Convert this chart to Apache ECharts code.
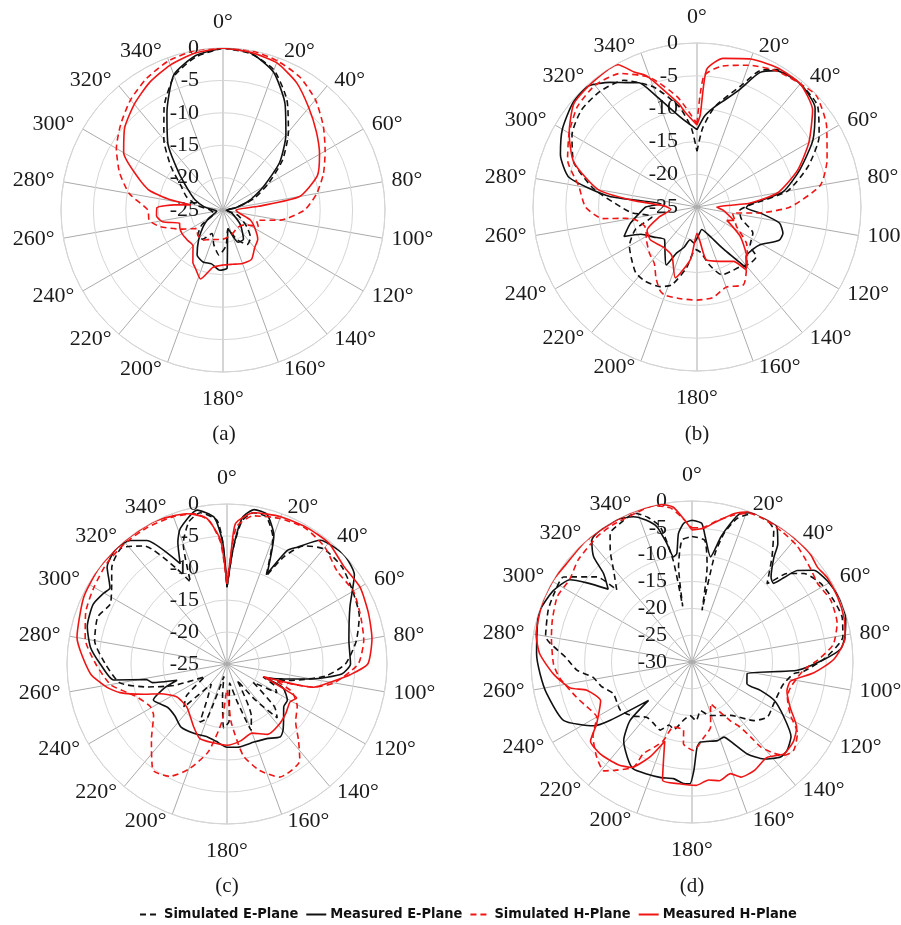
<!DOCTYPE html>
<html>
<head>
<meta charset="utf-8">
<script src="https://cdn.jsdelivr.net/npm/echarts@6/dist/echarts.min.js"></script>
<style>
html,body{margin:0;padding:0;background:#fff;}
#chart{width:901px;height:925px;}
</style>
</head>
<body>
<div id="chart"></div>
<script>
// ---------------- DATA: [angle (deg), level (dB)] ----------------
const seriesNames = ['Simulated E-Plane', 'Measured E-Plane', 'Simulated H-Plane', 'Measured H-Plane'];
const panelLabels = ['(a)', '(b)', '(c)', '(d)'];
const radialTicksABC = [0, -5, -10, -15, -20, -25];
const radialTicksD = [0, -5, -10, -15, -20, -25, -30];
const angleTickStep = 20;

// (a)
const a_simE = [[0,0],[10,-0.5],[20,-2],[30,-5.3],[40,-9.3],[50,-13],[60,-17],[70,-20],[80,-23],[90,-24.5],[110,-22.5],[125,-20.5],[135,-19],[145,-18.5],[155,-20],[165,-22],[175,-19.5],[185,-18],[195,-19.5],[205,-21],[215,-19.5],[225,-19.5],[235,-21],[250,-23.5],[270,-23],[280,-21],[290,-19],[300,-17.5],[310,-14.5],[320,-10.8],[330,-6.8],[340,-3],[350,-1],[360,0]];
const a_meaE = [[0,0],[10,-0.4],[20,-2.3],[30,-5.9],[40,-9.9],[50,-13.6],[60,-17.8],[70,-20.6],[80,-23],[95,-24.5],[110,-23.5],[130,-21.5],[145,-19.5],[155,-19.5],[165,-22],[172,-20],[176,-16],[183,-15.7],[192,-16.5],[201,-16.4],[210,-17],[219,-19],[230,-21],[240,-22.5],[260,-24],[275,-23],[280,-22],[290,-20.4],[300,-18.8],[310,-16.1],[320,-11.8],[330,-7.7],[340,-2.8],[350,-0.8],[360,0]];
const a_simH = [[0,0],[10,0],[20,-0.5],[30,-1.3],[40,-2.8],[50,-4.8],[60,-6.8],[70,-8.5],[80,-10.3],[90,-12.4],[100,-16],[107,-19.6],[115,-19],[125,-21],[140,-21.5],[160,-21],[180,-20.5],[204,-20],[214,-19.4],[225,-19.5],[235,-20],[245,-18],[255,-15],[262,-13.5],[270,-13.4],[280,-10.3],[290,-8],[300,-6],[310,-4.4],[320,-2.8],[330,-1.5],[340,-0.5],[350,0],[360,0]];
const a_meaH = [[0,0],[10,-0.3],[20,-0.8],[30,-2.3],[40,-4.4],[50,-6.2],[60,-7.8],[70,-9.5],[80,-13],[84,-19.5],[90,-23],[100,-22.5],[110,-20.5],[120,-19.3],[130,-18],[140,-17.4],[150,-16.2],[160,-16.2],[170,-16.5],[180,-16.5],[190,-16],[198,-13.8],[205,-15],[210,-15.7],[220,-17.8],[230,-17.8],[240,-17.7],[248,-17.8],[253,-18],[259,-15.5],[265,-14.7],[272,-14.8],[276,-17.5],[279,-20],[281,-16.6],[285,-13.2],[290,-11.3],[300,-7.3],[310,-5.2],[320,-3.7],[330,-2.3],[340,-1.2],[350,-0.4],[360,0]];

// (b)
const b_simE = [[0,-16.5],[4,-13],[10,-9.5],[20,-5.3],[25,-2],[30,-0.8],[40,-0.5],[50,-1],[60,-3.5],[70,-7],[80,-11],[88,-17],[95,-18.5],[105,-18],[115,-15.6],[126,-15],[130,-13.2],[137,-13.2],[145,-13.8],[152,-13.9],[160,-14],[168,-16],[175,-18],[182,-18.5],[190,-15.5],[198,-12.5],[205,-11.6],[215,-11.2],[223,-11.3],[232,-12.3],[240,-13.1],[250,-15],[258,-18],[265,-15],[270,-13.4],[280,-9],[290,-5],[300,-3],[310,-2],[320,-2],[330,-2.7],[340,-5.5],[350,-9.5],[356,-13],[360,-16.5]];
const b_meaE = [[0,-13.2],[5,-11],[10,-9.5],[15,-8],[20,-5.9],[25,-2.4],[30,-1],[40,-0.5],[50,-1.5],[60,-4.6],[70,-8.3],[80,-11.7],[87,-17],[91,-17.5],[96,-15],[101,-12.2],[107,-11.3],[112,-11.5],[121,-13.8],[127,-14.3],[135,-14.4],[141,-13],[148,-17.5],[158,-20.5],[168,-21.5],[178,-20.5],[185,-19.5],[192,-19.9],[198,-18.5],[204,-17.3],[208,-15],[215,-16.5],[225,-18],[235,-17],[244,-15.5],[248,-13],[256,-14.5],[264,-16.2],[270,-17.2],[275,-19.5],[277,-11.5],[283,-5],[291,-2.7],[300,-1.3],[310,-0.3],[318,-0.2],[325,-1.8],[330,-3.1],[335,-4.1],[340,-7.1],[350,-11.2],[360,-13.2]];
const b_simH = [[0,-12.3],[3,-5],[10,-3.2],[20,-2],[30,-1],[40,-0.5],[47,-0.1],[58,-1.7],[70,-3.9],[80,-5.9],[90,-10.8],[95,-15],[100,-19.5],[108,-19],[116,-18.3],[126,-15.7],[133,-14.5],[140,-13.2],[149,-11.2],[160,-12],[170,-11],[180,-10.8],[190,-10.8],[200,-10.7],[204,-11.1],[210,-12.5],[217,-14.2],[226,-14.9],[237,-15.8],[243,-16.3],[250,-16.5],[258,-15.5],[261,-14],[263,-10.5],[270,-8],[280,-6.7],[290,-4],[300,-2.5],[310,-1.2],[320,-0.8],[330,-1.5],[340,-4],[350,-8],[360,-12.3]];
const b_meaH = [[0,-12.5],[2,-11],[4,-4],[10,-2],[20,-1],[30,-0.5],[40,-0.5],[50,-2],[60,-5.3],[70,-8.7],[80,-12.5],[86,-17],[90,-22],[97,-21],[110,-19],[114,-20],[124,-17.1],[135,-14.3],[142,-12.8],[146,-15],[157,-16],[170,-16.8],[175,-19.7],[180,-21],[187,-17],[197,-13.7],[207,-16.6],[220,-17],[235,-16.3],[245,-16.6],[255,-19],[265,-21],[272,-20],[276,-15],[280,-9.7],[290,-5],[300,-2.5],[310,-0.5],[320,-0.2],[331,-0.2],[335,-2.3],[339,-3.6],[345,-6.9],[350,-9],[353,-10.5],[360,-12.5]];

// (c)
const c_simE = [[0,-13],[3,-7],[6,-2.5],[10,-1],[15,-1.2],[20,-4],[24,-10],[28,-6],[33,-3],[40,-1.5],[50,-1.5],[60,-2.3],[70,-3],[80,-4.5],[90,-6.5],[97,-9.5],[105,-15],[110,-19],[114,-17],[120,-16],[125,-20],[132,-15],[137,-13.5],[142,-18],[148,-22],[155,-16],[160,-14],[165,-19],[172,-22],[178,-16],[183,-15],[188,-20],[194,-23],[200,-16],[205,-15],[210,-19],[218,-21],[225,-15.5],[232,-17],[240,-21],[248,-16],[254,-12],[260,-8],[270,-6],[280,-4],[290,-3.5],[297,-4.5],[303,-3.5],[310,-1.5],[318,-0.5],[325,-2.5],[332,-8],[336,-11],[340,-5],[345,-2],[350,-1],[356,-2.5],[358,-6],[360,-13]];
const c_meaE = [[0,-13],[3,-7],[6,-2],[10,-0.5],[15,-0.8],[20,-3.6],[24,-9.6],[28,-4.9],[31,-3.7],[37,-0.8],[47,0],[55,-0.7],[65,-3.8],[79,-5.6],[90,-5.7],[95,-7],[100,-11.5],[105,-16],[110,-18.5],[113,-15.5],[121,-14],[127,-13.9],[135,-12.5],[140,-11.4],[144,-10.9],[152,-11.8],[161,-12.1],[173,-11.9],[180,-12],[188,-12.8],[195,-13.2],[205,-13],[216,-12.8],[225,-13.5],[234,-13.5],[244,-12.2],[249,-14.5],[252,-16.8],[256,-13],[259,-12.2],[262,-7.1],[270,-5.2],[277,-3.5],[285,-2.4],[294,-2.1],[300,-2.8],[303,-3.2],[309,-0.9],[316,0],[322,-0.5],[327,-2],[335,-7.7],[338,-4.5],[341,-2.6],[349,-0.5],[355,-2],[358,-6],[360,-13]];
const c_simH = [[0,-12.5],[2,-8],[4,-3.5],[10,-1.5],[20,-0.8],[30,-0.5],[40,-1.2],[50,-2.5],[60,-2.2],[70,-2.8],[80,-3.3],[90,-4.5],[100,-8],[105,-11],[109,-17],[113,-14],[121,-12.2],[130,-11],[137,-8.6],[143,-6.1],[155,-5.5],[163,-7.6],[170,-10.5],[176,-16],[180,-21],[185,-16],[192,-11],[200,-7.5],[207,-5.3],[215,-4.8],[225,-8.3],[235,-11],[241,-11.3],[250,-10],[254,-8.8],[260,-6.5],[270,-4.5],[280,-2.5],[290,-1.5],[300,-1],[310,-0.5],[320,-0.3],[330,-0.3],[340,-0.5],[348,-1],[353,-2.5],[357,-6],[360,-12.5]];
const c_meaH = [[0,-12.5],[2,-8],[3.5,-3],[10,-1],[20,-0.5],[30,-0.3],[40,-0.3],[50,-1.2],[60,-1],[70,-1.5],[80,-2],[90,-3],[95,-5.7],[99,-8.1],[105,-11],[109,-18.9],[113.5,-15.4],[116,-12.9],[121,-13.5],[130,-13],[140,-12.5],[150,-12.3],[160,-13.5],[170,-12.8],[180,-12.3],[190,-12.5],[200,-12.6],[208,-13.9],[223,-15.8],[237,-15.6],[246,-13.6],[250,-11.2],[255,-7.7],[259,-5.9],[266,-3.6],[280,-1.2],[295,-0.3],[307,0],[320,0],[333,0],[345,-0.7],[352,-2],[357,-5.6],[360,-12.5]];

// (d)
const d_simE = [[0,-6.6],[6,-7.2],[9,-12],[11,-20.2],[12,-9.4],[14,-5.3],[17.4,-2],[22.6,0],[27.6,0],[31.8,-1.1],[37.3,-5.4],[43.8,-9.8],[45,-8.5],[47,-5.8],[51.7,-3.4],[58.6,-1.9],[66.5,-1.2],[73.3,-0.8],[80.5,-1.5],[88,-5],[94.6,-9],[96.5,-10.9],[103,-12.4],[106,-12.7],[117,-12.9],[126,-12.6],[133.4,-14.1],[144,-17.7],[155,-19],[162,-19.5],[170,-20.8],[176,-19],[182,-20],[188,-19.1],[195,-17],[200,-17.5],[205,-16],[212,-16.5],[219,-16.7],[228,-15],[236,-13.9],[248,-14.2],[255,-12.5],[261,-11.4],[266,-8.5],[272,-6.5],[280,-2.3],[290,-1.5],[297,-1.3],[303.5,-1.3],[311.8,-6.2],[313.7,-10.6],[319.5,-7.5],[323.8,-4.2],[327.5,-1.6],[332.6,-0.9],[339,-0.3],[343,-1.8],[346.8,-4.1],[349.5,-10.7],[350.5,-19.5],[352,-12],[355.3,-7.2],[360,-6.6]];
const d_meaE = [[0,-3.6],[4,-4.1],[6,-6.5],[10,-10.1],[13,-6.1],[15.5,-3.2],[18,-0.9],[22,0],[27,0],[32,-0.2],[36,-2.8],[38,-5.2],[43,-8.4],[46,-8.9],[47.5,-6.7],[49,-4],[53,-1.6],[59,-0.6],[67,0],[74,-0.2],[81,-1.2],[85,-2.2],[89,-5.5],[94.5,-10.3],[102,-19.5],[111.5,-19],[112.5,-16.2],[115,-13.1],[121,-10],[127,-6.9],[133,-5.8],[137,-5.8],[143.5,-7.5],[149,-10],[153,-12.9],[157,-14.8],[162,-14.6],[174,-15],[176.6,-14.1],[179,-9.8],[181,-7.3],[184,-7.3],[189,-8],[195,-7.7],[202,-7.5],[209,-7.3],[214,-8.5],[221,-10.6],[226.6,-14.1],[228.5,-19.2],[234.5,-11.3],[237,-8.2],[245.6,-3.7],[257.7,-2.3],[265.6,-1.6],[273,-1],[282,-0.5],[288,0],[297,-0.9],[304,-2.6],[307,-5.5],[311,-9.3],[315,-6.7],[317,-3.1],[320.6,-0.6],[326,0],[332,0],[338,-0.8],[342,-2.2],[345.5,-4],[348,-7.4],[350,-10.1],[352,-9.6],[354,-5.9],[356.6,-4.1],[360,-3.6]];
const d_simH = [[0,-5],[5,-4.8],[10,-3.3],[16,-1.5],[21,-0.3],[27,-0.2],[35,-0.5],[42,-0.8],[48,-1.5],[53,-2],[58,-2.4],[66,-1.7],[75,-2],[83,-3.5],[89,-6.5],[94,-9.1],[104,-11],[110,-11.1],[118,-9.3],[124,-6.3],[131,-4.9],[135.5,-5.6],[138,-7.1],[141,-9.6],[142,-12.3],[143.5,-14.9],[147,-17],[156,-21.5],[164,-17.4],[171,-15.8],[179,-13.5],[186,-14.7],[187,-17.2],[196,-17.4],[200,-14.4],[204,-12.6],[208,-10.6],[209,-7.6],[215,-5.4],[219,-3.9],[225,-4.9],[233,-6.9],[240,-9.5],[247,-8.7],[253,-7.5],[263,-5.2],[269,-4.2],[280,-3.4],[287,-2.8],[296,-2.1],[304,-2.5],[312,-1.5],[323,-0.7],[330,-0.5],[340,-0.3],[346,0],[352,-1],[356,-3],[360,-5]];
const d_meaH = [[0,-5.4],[5,-5],[10,-3.4],[16,-1.2],[21,0],[27,0],[35,0],[42,-0.1],[48,-0.2],[53,-0.7],[58,-0.3],[66,-0.3],[74,-0.5],[81,-1.1],[89,-3.6],[95,-7.2],[101,-11.3],[107,-11.5],[115,-9.8],[122,-7],[128,-6],[135,-5.8],[142,-7.4],[150,-6.7],[157,-6.7],[161,-8],[167,-7.3],[172,-7.8],[178,-7],[186,-7.2],[194,-7.3],[199,-14.4],[204,-10.6],[210,-7.3],[216,-6.4],[225,-5.8],[232,-6],[237,-8.8],[247,-11.5],[255,-9.7],[258,-6.8],[265,-4.1],[273,-1.6],[280,-0.5],[292,0],[301,0],[308,-0.3],[319,0],[334,0],[341,0],[349,-0.1],[353,-0.9],[357,-3.5],[360,-5.4]];

// ---------------- LAYOUT / STYLE ----------------
const panels = [
  {data:[a_simE,a_meaE,a_simH,a_meaH], ticks:radialTicksABC, center:[223,210], radius:162, labelMargin:24, tag:[224,434]},
  {data:[b_simE,b_meaE,b_simH,b_meaH], ticks:radialTicksABC, center:[697,207], radius:164, labelMargin:19, tag:[697,434]},
  {data:[c_simE,c_meaE,c_simH,c_meaH], ticks:radialTicksABC, center:[227,664], radius:160, labelMargin:28, tag:[227,886]},
  {data:[d_simE,d_meaE,d_simH,d_meaH], ticks:radialTicksD, center:[692,662], radius:161, labelMargin:25, tag:[692,886]}
];
const BLACK = '#111111', RED = '#f01414';
const lineStyles = [
  {color:BLACK, type:[6,4]},
  {color:BLACK, type:'solid'},
  {color:RED, type:[6,4]},
  {color:RED, type:'solid'}
];
const serif = "'Liberation Serif','Times New Roman',serif";
const LABEL_SIZE = 22;

// Angle-label placement: ECharts anchors the label at radius+margin;
// per-angle padding nudges each label to sit just outside the spoke end.
const ANGLE_MARGIN = -12;
const angleRich = {};
for (let a = 0; a < 360; a += angleTickStep) {
  const t = a * Math.PI / 180, s = Math.sin(t), c = Math.cos(t);
  let pt = 0, pr = 0, pb = 0, pl = 0;
  if (Math.abs(s) < 0.01) {
    if (c > 0) pb = 15 - ANGLE_MARGIN; else pt = 16 - ANGLE_MARGIN;
  } else {
    const gap = 4 + 5 * Math.abs(s);
    const ph = gap - ANGLE_MARGIN * Math.abs(s);
    if (s > 0) pl = ph; else pr = ph;
    if (Math.abs(c) < 0.3) {
      const shift = (7 - ANGLE_MARGIN) * c;
      if (c > 0) pb = 2 * shift; else pt = -2 * shift;
    } else {
      const v = Math.max(0, Math.abs(c) * (7 - ANGLE_MARGIN) - LABEL_SIZE / 2);
      if (c > 0) pb = v; else pt = v;
    }
  }
  angleRich['a' + a] = {padding:[pt, pr, pb, pl], fontFamily:serif, fontSize:LABEL_SIZE, color:'#1a1a1a'};
}

const polar = [], angleAxis = [], radiusAxis = [], series = [], graphic = [];
panels.forEach((p, i) => {
  polar.push({center:p.center, radius:p.radius});
  angleAxis.push({
    polarIndex:i, type:'value', min:0, max:360, interval:angleTickStep,
    startAngle:90, clockwise:true,
    axisLine:{show:true, lineStyle:{color:'#cfcfcf', width:1}},
    axisTick:{show:false},
    axisLabel:{show:true, margin:ANGLE_MARGIN, fontFamily:serif, fontSize:LABEL_SIZE, color:'#1a1a1a',
      formatter:(v) => (v >= 360 ? '' : '{a' + v + '|' + v + '°}'), rich:angleRich},
    splitLine:{show:true, lineStyle:{color:'#ababab', width:1}}
  });
  const mn = Math.min(...p.ticks), mx = Math.max(...p.ticks);
  radiusAxis.push({
    polarIndex:i, type:'value', min:mn, max:mx, interval:5,
    axisLine:{show:false}, axisTick:{show:false},
    axisLabel:{show:true, margin:p.labelMargin, fontFamily:serif, fontSize:LABEL_SIZE, color:'#1a1a1a'},
    splitLine:{show:true, lineStyle:{color:'#d6d6d6', width:1}},
    z:1
  });
  p.data.forEach((arr, k) => {
    series.push({
      type:'line', name:seriesNames[k], coordinateSystem:'polar', polarIndex:i,
      data:arr.map(([ang, v]) => [v, ang]),
      symbol:'none', showSymbol:false, smooth:0.2,
      lineStyle:{color:lineStyles[k].color, width:1.6, type:lineStyles[k].type},
      itemStyle:{color:lineStyles[k].color},
      z:3 + k, animation:false, silent:true
    });
  });
  graphic.push({type:'text', x:p.tag[0], y:p.tag[1],
    style:{text:panelLabels[i], font:"21px 'Liberation Serif'", fill:'#1a1a1a',
      align:'center', verticalAlign:'middle', textAlign:'center', textVerticalAlign:'middle'}});
});

const chart = echarts.init(document.getElementById('chart'), null, {renderer:'canvas'});
chart.setOption({
  backgroundColor:'#ffffff',
  animation:false,
  polar, angleAxis, radiusAxis, series, graphic,
  legend:{
    data:seriesNames, left:134, top:902,
    itemWidth:20, itemHeight:12, itemGap:7,
    itemStyle:{opacity:0},
    textStyle:{fontFamily:"'Liberation Sans Narrow','DejaVu Sans Condensed','Liberation Sans',sans-serif",
      fontWeight:'bold', fontSize:14.5, color:'#111', padding:[0,0,0,-1]}
  }
});
</script>
</body>
</html>
